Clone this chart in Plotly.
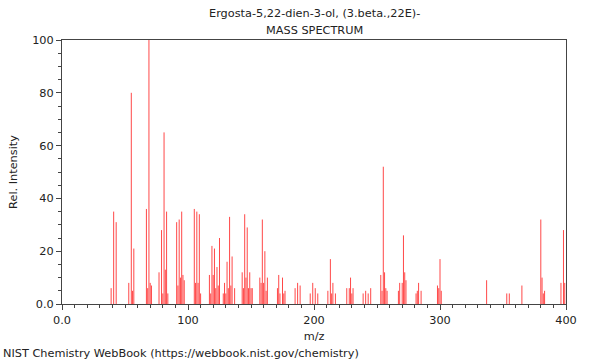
import plotly.graph_objects as go

# m/z values and relative intensities
mz = [39, 41, 43, 53, 55, 56, 57, 67, 68, 69, 70, 71, 77, 79, 80, 81, 82, 83, 84,
      91, 92, 93, 94, 95, 96, 97, 105, 106, 107, 108, 109, 110,
      117, 118, 119, 120, 121, 122, 123, 124, 125,
      128, 129, 130, 131, 132, 133, 134, 135, 137,
      143, 144, 145, 146, 147, 148, 149, 150, 151,
      157, 158, 159, 160, 161, 162, 163,
      171, 172, 173, 175, 176, 177, 185, 187, 189,
      197, 199, 201, 203, 211, 213, 214, 215, 217,
      226, 228, 229, 230, 231, 239, 241, 243, 245,
      253, 254, 255, 256, 257, 258, 267, 268, 270, 271, 272, 273,
      281, 282, 283, 285, 298, 299, 300, 301,
      337, 353, 355, 365, 380, 381, 382, 383, 396, 398, 399]
intensity = [6, 35, 31, 8, 80, 5, 21, 36, 6, 100, 8, 7, 12, 28, 4, 65, 13, 35, 4,
             31, 7, 32, 10, 35, 11, 9, 36, 8, 35, 8, 34, 4,
             11, 4, 22, 11, 21, 6, 14, 7, 25,
             4, 8, 4, 16, 6, 33, 7, 18, 6,
             12, 6, 34, 10, 29, 6, 12, 6, 6,
             10, 8, 32, 8, 20, 5, 10,
             6, 11, 4, 10, 4, 5, 6, 8, 7,
             4, 8, 6, 4, 5, 17, 4, 8, 4,
             6, 6, 10, 4, 6, 4, 5, 4, 6,
             11, 5, 52, 12, 6, 5, 5, 8, 8, 26, 12, 9,
             4, 5, 8, 5, 7, 6, 17, 5,
             9, 4, 4, 7, 32, 10, 4, 5, 8, 28, 8]

x_tickvals = [0, 100, 200, 300, 400]
x_ticktext = ["0.0", "100", "200", "300", "400"]
y_tickvals = [0, 20, 40, 60, 80, 100]
y_ticktext = ["0.0", "20", "40", "60", "80", "100"]

xs, ys = [], []
for m, i in zip(mz, intensity):
    xs += [m, m, None]
    ys += [0, i, None]

font = "DejaVu Sans, Verdana, sans-serif"
fs = 11.3
fig = go.Figure()
fig.add_trace(go.Scatter(x=xs, y=ys, mode="lines",
                         line=dict(color="rgba(255,40,40,0.85)", width=1),
                         hoverinfo="skip", showlegend=False))

axis_common = dict(showline=True, linecolor="#444", linewidth=1, mirror=True,
                   showgrid=False, zeroline=False, ticks="outside", ticklen=5,
                   tickcolor="#444", tickfont=dict(family=font, size=fs, color="#222"))

fig.update_layout(
    width=600, height=360,
    margin=dict(l=62, r=34, t=40, b=56),
    paper_bgcolor="white", plot_bgcolor="white",
    font=dict(family=font, size=fs, color="#222"),
    xaxis=dict(range=[0, 400], tickvals=x_tickvals, ticktext=x_ticktext,
               minor=dict(dtick=10, ticks="outside", ticklen=3, tickcolor="#444"),
               title=dict(text="m/z", font=dict(family=font, size=fs), standoff=6),
               **axis_common),
    yaxis=dict(range=[0, 100], tickvals=y_tickvals, ticktext=y_ticktext,
               minor=dict(dtick=5, ticks="outside", ticklen=3, tickcolor="#444"),
               title=dict(text="Rel. Intensity", font=dict(family=font, size=fs), standoff=12),
               **axis_common),
    annotations=[
        dict(text="Ergosta-5,22-dien-3-ol, (3.beta.,22E)-", x=0.5, y=1, xref="paper",
             yref="paper", yshift=27, showarrow=False, yanchor="middle",
             font=dict(family=font, size=fs, color="#222")),
        dict(text="MASS SPECTRUM", x=0.5, y=1, xref="paper", yref="paper",
             yshift=10, showarrow=False, yanchor="middle",
             font=dict(family=font, size=fs, color="#222")),
        dict(text="NIST Chemistry WebBook (https://webbook.nist.gov/chemistry)",
             x=0, y=0, xref="paper", yref="paper", xshift=-61, yshift=-49,
             xanchor="left", yanchor="middle", showarrow=False,
             font=dict(family=font, size=fs, color="#222")),
    ],
)

fig.write_html("out.html", config={"displayModeBar": False},
               post_script="document.body.style.margin='0px';document.body.style.padding='0px';")
